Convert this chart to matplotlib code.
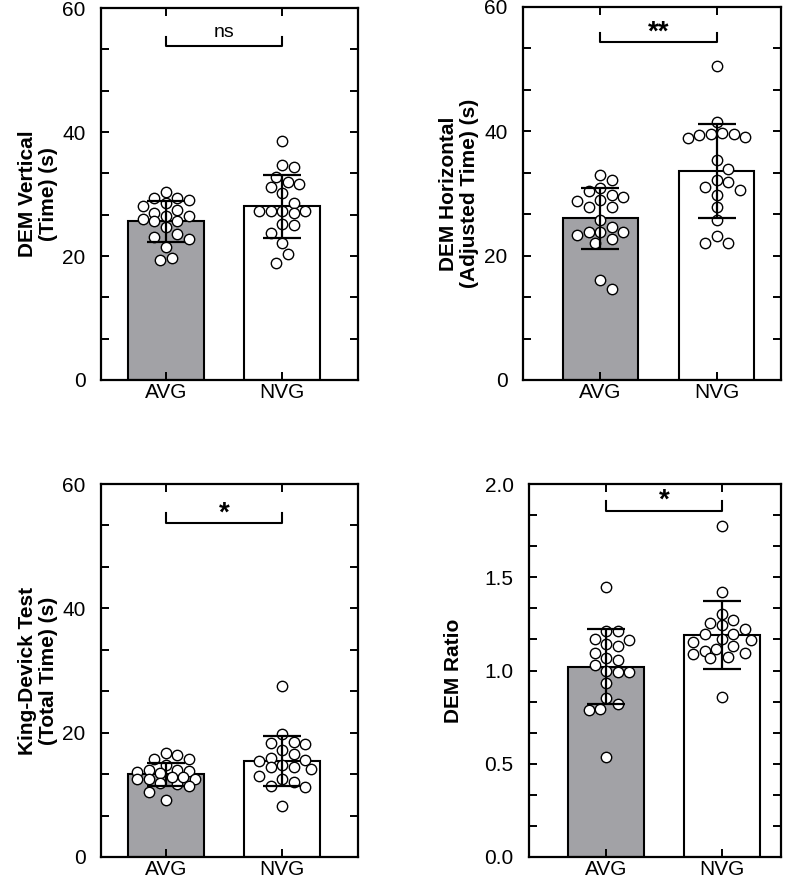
import numpy as np
import matplotlib
matplotlib.use('Agg')
import matplotlib.pyplot as plt
from matplotlib.ticker import MultipleLocator, FormatStrFormatter

plt.rcParams['font.family'] = ['Liberation Sans', 'DejaVu Sans']

groups = ['AVG', 'NVG']

# panel 1: DEM vertical (time)
vert_avg = [30.4, 29.3, 29.1, 29.3, 28.1, 28.5, 27.4, 26.5, 26.9, 26.4,
            26.0, 25.6, 25.6, 24.6, 23.5, 23.1, 22.8, 21.4, 19.7, 19.4]
vert_nvg = [38.6, 34.4, 34.6, 32.8, 31.9, 31.1, 31.6, 30.1, 28.5, 27.3,
            27.3, 27.3, 27.3, 27.0, 25.2, 23.7, 25.0, 22.1, 20.3, 18.8]
vert_mean = [25.6, 28.0]
vert_sd = [3.3, 5.1]

# panel 2: DEM horizontal (adjusted time)
horz_avg = [32.9, 32.2, 30.9, 30.4, 29.7, 29.0, 29.5, 27.8, 27.8, 28.8,
            25.7, 24.6, 23.8, 23.4, 22.7, 22.1, 23.8, 23.8, 16.1, 14.6]
horz_nvg = [50.5, 41.5, 39.8, 39.6, 39.6, 39.1, 39.4, 38.9, 35.4, 33.9,
            32.1, 31.9, 31.0, 30.5, 29.7, 27.8, 25.8, 23.2, 22.0, 22.0]
horz_mean = [26.0, 33.6]
horz_sd = [4.9, 7.5]

# panel 3: King-Devick total time
kd_avg = [16.8, 16.4, 15.8, 15.8, 14.8, 14.0, 13.6, 14.0, 13.5, 13.9,
          11.9, 11.7, 12.6, 12.8, 12.8, 12.6, 12.6, 11.4, 10.5, 9.2]
kd_nvg = [27.5, 19.8, 18.5, 18.3, 18.2, 16.5, 17.2, 16.0, 15.6, 15.5,
          14.8, 14.4, 14.4, 14.2, 13.0, 12.5, 12.0, 11.4, 11.3, 8.2]
kd_mean = [13.3, 15.5]
kd_sd = [1.9, 4.0]

# panel 4: DEM ratio
ratio_avg = [1.446, 1.170, 1.211, 1.166, 1.214, 1.134, 1.143, 1.095, 1.068, 1.055,
             1.032, 0.996, 0.993, 0.991, 0.934, 0.850, 0.821, 0.796, 0.786, 0.538]
ratio_nvg = [1.777, 1.421, 1.305, 1.273, 1.255, 1.243, 1.220, 1.198, 1.198, 1.166,
             1.170, 1.152, 1.130, 1.095, 1.086, 1.073, 1.104, 1.113, 1.068, 0.859]
ratio_mean = [1.02, 1.19]
ratio_sd = [0.20, 0.18]

W, H = 800, 882
fig = plt.figure(figsize=(W / 100, H / 100), dpi=100)

def make_ax(l, r, t, b):
    return fig.add_axes([l / W, 1 - b / H, (r - l) / W, (b - t) / H])

def swarm(vals, xpx, ypx, d=11.5, maxw=34):
    # greedy beeswarm in pixel space, width limited (points may overlap when crowded)
    order = np.argsort(vals)[::-1]
    placed = []
    offs = np.zeros(len(vals))
    step = d * 0.5
    n = int(maxw // step)
    cands = [0.0]
    for k in range(1, n + 1):
        cands += [k * step, -k * step]
    for i in order:
        y = vals[i] * ypx
        best, bestd = None, -1
        for c in cands:
            md = min([np.hypot(c - px, y - py) for px, py in placed] + [1e9])
            if md >= d:
                best = c
                break
            if md > bestd:
                best, bestd = c, md
        placed.append((best, y))
        offs[i] = best / xpx
    return offs

def panel(ax, box, data, mean, sd, ymax, ylabel, lab_x, sig, sig_y, xlim, major, fmt):
    l, r, t, b = box
    ax.set_xlim(*xlim)
    ax.set_ylim(0, ymax)
    xpx = (r - l) / (xlim[1] - xlim[0])
    ypx = (b - t) / ymax
    cols = ['#a2a2a6', 'white']
    ax.bar([0, 1], mean, width=0.65, color=cols, edgecolor='k', linewidth=1.5, zorder=1)
    for i, vals in enumerate(data):
        vals = np.array(vals)
        xo = swarm(vals, xpx, ypx)
        ax.scatter(i + xo, vals, s=56, facecolor='white', edgecolor='k',
                   linewidth=1.0, zorder=2, clip_on=False)
    ax.errorbar([0, 1], mean, yerr=sd, fmt='none', ecolor='k', elinewidth=1.6,
                capsize=13.5, capthick=1.6, zorder=3)
    h, top = sig_y
    ax.plot([0, 0, 1, 1], [top, h, h, top], color='k', lw=1.5, zorder=3)
    if sig == 'ns':
        ax.text(0.5, top - (top - h) * 0.5, sig, ha='center', va='bottom', fontsize=14)
    else:
        ax.text(0.5, h - (top - h) * 0.3, sig, ha='center', va='bottom',
                fontsize=20, fontweight='bold')
    ax.set_xticks([0, 1])
    ax.set_xticklabels(groups)
    ax.yaxis.set_major_locator(MultipleLocator(major))
    ax.yaxis.set_minor_locator(MultipleLocator(major / 3))
    ax.yaxis.set_major_formatter(FormatStrFormatter(fmt))
    ax.tick_params(which='both', direction='in', top=True, right=True,
                   width=1.4, labelsize=15, length=6)
    ax.tick_params(axis='y', pad=11)
    ax.tick_params(axis='x', pad=2)
    ax.tick_params(axis='x', which='minor', top=False, bottom=False)
    for s in ax.spines.values():
        s.set_linewidth(1.6)
    ax.set_ylabel(ylabel, fontsize=15, fontweight='bold', linespacing=1.15, va='center')
    ax.yaxis.set_label_coords(lab_x, 0.5)

b1 = (101, 358, 8, 380)
b2 = (523, 781, 7, 380)
b3 = (101, 358, 484, 857)
b4 = (529, 781, 484, 857)

ax1 = make_ax(*b1)
panel(ax1, b1, [vert_avg, vert_nvg], vert_mean, vert_sd, 60,
      'DEM Vertical\n(Time) (s)', -0.245, 'ns', (53.9, 55.4), (-0.56, 1.655), 20, '%d')
ax2 = make_ax(*b2)
panel(ax2, b2, [horz_avg, horz_nvg], horz_mean, horz_sd, 60,
      'DEM Horizontal\n(Adjusted Time) (s)', -0.248, '**', (54.3, 55.8), (-0.668, 1.556), 20, '%d')
ax3 = make_ax(*b3)
panel(ax3, b3, [kd_avg, kd_nvg], kd_mean, kd_sd, 60,
      'King-Devick Test\n(Total Time) (s)', -0.245, '*', (53.7, 55.3), (-0.56, 1.655), 20, '%d')
ax4 = make_ax(*b4)
panel(ax4, b4, [ratio_avg, ratio_nvg], ratio_mean, ratio_sd, 2.0,
      'DEM Ratio', -0.30, '*', (1.857, 1.907), (-0.664, 1.509), 0.5, '%.1f')

fig.savefig('out.png', dpi=100)
